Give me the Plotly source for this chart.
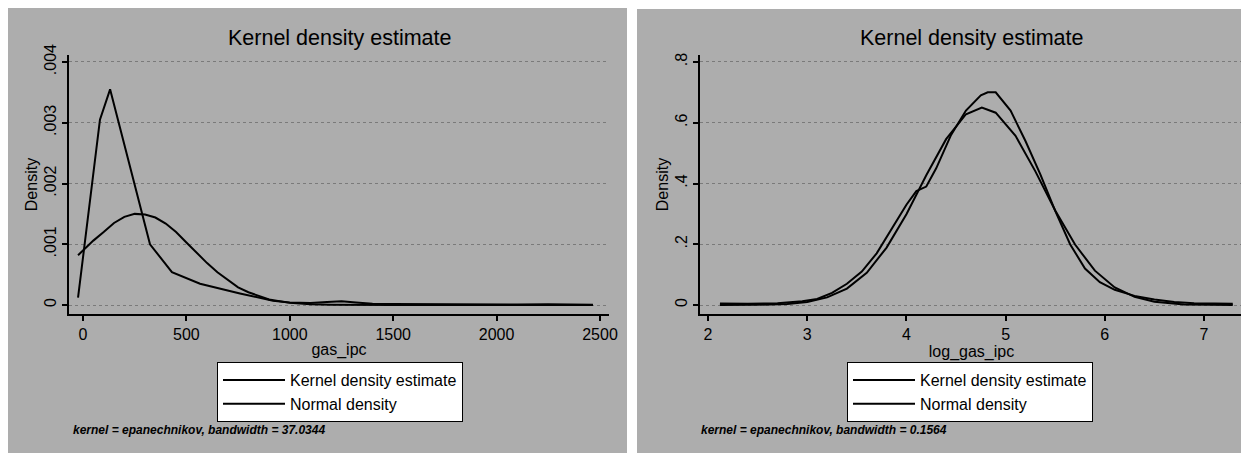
import plotly.graph_objects as go

W, H = 1249, 453
OFF = 8  # page body margin in the browser shifts the figure by 8 px

# ---------------- data ----------------
# Left panel: gas_ipc
gas_kernel_x = [-24, 82, 131, 324, 430, 566, 759, 919, 1000, 1100, 1180, 1250, 1320,
                1400, 1500, 1700, 1900, 2100, 2250, 2350, 2466]
gas_kernel_y = [0.00012, 0.00305, 0.00355, 0.00100, 0.00054, 0.00035, 0.00019, 0.00007,
                0.00004, 0.000035, 0.00005, 0.00006, 0.00004, 0.00002, 0.000015, 0.00001,
                0.00001, 0.000008, 0.000012, 0.000012, 0.000006]

gas_normal_x = [-24, 0, 50, 100, 150, 200, 250, 300, 350, 400, 450, 500, 550, 600, 650,
                700, 750, 800, 900, 1000, 1100, 1200, 1300, 1500, 2000, 2466]
gas_normal_y = [0.00082, 0.00090, 0.00106, 0.00120, 0.00135, 0.00145, 0.00150, 0.00149,
                0.00144, 0.00134, 0.00120, 0.00103, 0.00086, 0.00069, 0.00054, 0.00041,
                0.00029, 0.00021, 0.00009, 0.000035, 0.000012, 0.000004, 0.000001, 0.0,
                0.0, 0.0]

# Right panel: log_gas_ipc
log_kernel_x = [2.12, 2.4, 2.7, 2.95, 3.1, 3.25, 3.4, 3.55, 3.7, 3.85, 4.0, 4.1, 4.2,
                4.3, 4.45, 4.6, 4.75, 4.82, 4.9, 5.05, 5.2, 5.35, 5.5, 5.65, 5.8, 5.95,
                6.1, 6.3, 6.5, 6.7, 6.9, 7.1, 7.29]
log_kernel_y = [0.005, 0.004, 0.006, 0.012, 0.02, 0.04, 0.07, 0.11, 0.17, 0.25, 0.33,
                0.375, 0.39, 0.45, 0.56, 0.64, 0.69, 0.70, 0.70, 0.64, 0.54, 0.43, 0.31,
                0.20, 0.12, 0.075, 0.05, 0.03, 0.018, 0.01, 0.006, 0.005, 0.004]

log_normal_x = [2.12, 2.5, 2.8, 3.0, 3.2, 3.4, 3.6, 3.8, 4.0, 4.2, 4.4, 4.6, 4.76, 4.9,
                5.1, 5.3, 5.5, 5.7, 5.9, 6.1, 6.3, 6.5, 6.8, 7.0, 7.29]
log_normal_y = [0.0, 0.0007, 0.0037, 0.010, 0.025, 0.054, 0.106, 0.189, 0.299, 0.427,
                0.546, 0.628, 0.65, 0.633, 0.557, 0.44, 0.311, 0.199, 0.113, 0.058,
                0.027, 0.011, 0.002, 0.0008, 0.0001]

left_yticks = [0, 0.001, 0.002, 0.003, 0.004]
left_yticklabels = ["0", ".001", ".002", ".003", ".004"]
left_xticks = [0, 500, 1000, 1500, 2000, 2500]
right_yticks = [0, 0.2, 0.4, 0.6, 0.8]
right_yticklabels = ["0", ".2", ".4", ".6", ".8"]
right_xticks = [2, 3, 4, 5, 6, 7]

title_text = "Kernel density estimate"
legend_names = ["Kernel density estimate", "Normal density"]
notes = ["kernel = epanechnikov, bandwidth = 37.0344",
         "kernel = epanechnikov, bandwidth = 0.1564"]
x_titles = ["gas_ipc", "log_gas_ipc"]

# ---------------- figure ----------------
FONT = "Arial, Liberation Sans, sans-serif"

def px(x):
    return (x - OFF) / W

def py(y):
    return 1 - (y - OFF) / H

fig = go.Figure()

line_style = dict(color="black", width=2)
fig.add_trace(go.Scatter(x=gas_kernel_x, y=gas_kernel_y, mode="lines", name=legend_names[0],
                         line=line_style, xaxis="x", yaxis="y", legend="legend"))
fig.add_trace(go.Scatter(x=gas_normal_x, y=gas_normal_y, mode="lines", name=legend_names[1],
                         line=line_style, xaxis="x", yaxis="y", legend="legend"))
fig.add_trace(go.Scatter(x=log_kernel_x, y=log_kernel_y, mode="lines", name=legend_names[0],
                         line=line_style, xaxis="x2", yaxis="y2", legend="legend2"))
fig.add_trace(go.Scatter(x=log_normal_x, y=log_normal_y, mode="lines", name=legend_names[1],
                         line=line_style, xaxis="x2", yaxis="y2", legend="legend2"))

ydom = [py(314), py(55)]

common_x = dict(showline=True, linecolor="black", linewidth=1.5, ticks="outside",
                ticklen=5, tickwidth=1.5, tickcolor="black", showgrid=False,
                zeroline=False, automargin=False,
                tickfont=dict(family=FONT, size=16, color="black"),
                title_font=dict(family=FONT, size=16, color="black"))
common_y = dict(showline=True, linecolor="black", linewidth=1.5, ticks="outside",
                ticklen=5, tickwidth=1.5, tickcolor="black", showgrid=True,
                gridcolor="#7a7a7a", griddash="dot", gridwidth=1, zeroline=False,
                automargin=False, tickangle=-90,
                tickfont=dict(family=FONT, size=16, color="black"),
                title_font=dict(family=FONT, size=16, color="black"))

fig.update_layout(
    width=W, height=H, autosize=False,
    margin=dict(l=0, r=0, t=0, b=0, pad=0),
    paper_bgcolor="white", plot_bgcolor="white",
    xaxis=dict(domain=[px(69), px(609)], range=[-67.7, 2543.5], tickvals=left_xticks,
               anchor="y", title=dict(text=x_titles[0], standoff=2), **common_x),
    yaxis=dict(domain=ydom, range=[-0.000148, 0.004115], tickvals=left_yticks,
               ticktext=left_yticklabels, anchor="x",
               title=dict(text="Density", standoff=0), **common_y),
    xaxis2=dict(domain=[px(700), px(1243)], range=[1.919, 7.393], tickvals=right_xticks,
                anchor="y2", title=dict(text=x_titles[1], standoff=2), **common_x),
    yaxis2=dict(domain=ydom, range=[-0.0296, 0.823], tickvals=right_yticks,
                ticktext=right_yticklabels, anchor="x2",
                title=dict(text="Density", standoff=0), **common_y),
    legend=dict(x=px(340), y=py(392), xanchor="center", yanchor="middle",
                bgcolor="white", bordercolor="black", borderwidth=1,
                font=dict(family=FONT, size=16, color="black"), itemwidth=62,
                tracegroupgap=0),
    legend2=dict(x=px(970), y=py(392), xanchor="center", yanchor="middle",
                 bgcolor="white", bordercolor="black", borderwidth=1,
                 font=dict(family=FONT, size=16, color="black"), itemwidth=62,
                 tracegroupgap=0),
    showlegend=True,
)

# stippled grey panel backgrounds (flat grey approximation)
BG = "#adadad"
fig.add_shape(type="rect", xref="paper", yref="paper", x0=px(7), x1=px(627),
              y0=py(470), y1=py(8), fillcolor=BG, line_width=0, layer="below")
fig.add_shape(type="rect", xref="paper", yref="paper", x0=px(637), x1=px(1270),
              y0=py(470), y1=py(9), fillcolor=BG, line_width=0, layer="below")

# titles
for cx in (339, 971):
    fig.add_annotation(x=px(cx), y=py(38), xref="paper", yref="paper", text=title_text,
                       showarrow=False, xanchor="center", yanchor="middle",
                       font=dict(family=FONT, size=21.5, color="black"))

# notes
for lx, note in zip((71, 699), notes):
    fig.add_annotation(x=px(lx), y=py(430), xref="paper", yref="paper",
                       text="<b><i>" + note + "</i></b>", showarrow=False,
                       xanchor="left", yanchor="middle",
                       font=dict(family=FONT, size=12, color="black"))

fig.write_html("out.html")
